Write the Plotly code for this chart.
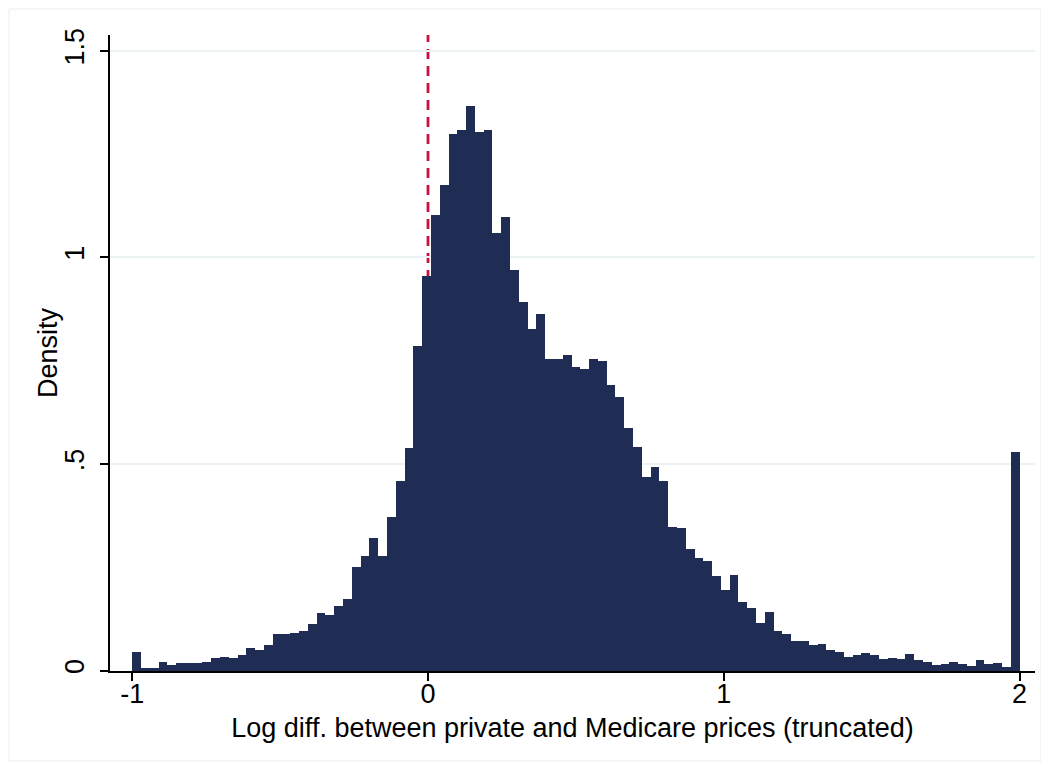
import plotly.graph_objects as go

# ---- data ----
bin_start = -1.0
bin_end = 2.0
n_bins = 101
density = [
    0.044, 0.007, 0.0055, 0.022, 0.0136, 0.0177, 0.0177, 0.0177, 0.020, 0.0298,
    0.034, 0.0306, 0.0387, 0.0557, 0.0508, 0.0613, 0.0879, 0.0879, 0.092, 0.096,
    0.113, 0.140, 0.135, 0.157, 0.174, 0.251, 0.278, 0.320, 0.278, 0.372,
    0.458, 0.538, 0.785, 0.956, 1.102, 1.174, 1.298, 1.308, 1.366, 1.303,
    1.309, 1.060, 1.097, 0.969, 0.891, 0.826, 0.862, 0.754, 0.753, 0.764,
    0.734, 0.731, 0.753, 0.748, 0.692, 0.662, 0.587, 0.541, 0.468, 0.493,
    0.458, 0.347, 0.345, 0.295, 0.272, 0.265, 0.228, 0.194, 0.232, 0.166,
    0.152, 0.116, 0.141, 0.096, 0.0896, 0.0726, 0.0717, 0.0613, 0.0654, 0.0508,
    0.0443, 0.0322, 0.0387, 0.0436, 0.037, 0.0274, 0.0298, 0.0274, 0.0395, 0.0266,
    0.0218, 0.0145, 0.016, 0.020, 0.016, 0.012, 0.0257, 0.017, 0.0194, 0.0097,
    0.529,
]
x_ticks = [-1, 0, 1, 2]
x_tick_labels = ["-1", "0", "1", "2"]
y_ticks = [0, 0.5, 1, 1.5]
y_tick_labels = ["0", ".5", "1", "1.5"]
ref_line_x = 0
x_title = "Log diff. between private and Medicare prices (truncated)"
y_title = "Density"

# ---- build ----
bw = (bin_end - bin_start) / n_bins
centers = [bin_start + (i + 0.5) * bw for i in range(n_bins)]

# page has an 8px body margin, so the figure is drawn 8px in from the window edge
W, H = 1041, 761
ml, mr, mt, mb = 102, 14, 27, 98
font = "Liberation Sans, Arial, Helvetica, sans-serif"

fig = go.Figure()
fig.add_trace(go.Bar(
    x=centers, y=density, width=bw,
    marker=dict(color="#1f2d54", line=dict(width=0)),
    hoverinfo="skip",
))

fig.add_shape(type="line", xref="x", yref="y domain",
              x0=ref_line_x, x1=ref_line_x, y0=0, y1=1,
              line=dict(color="#cc1040", width=2.8, dash="10px,7px"),
              layer="below")

pw = W - ml - mr
ph = H - mt - mb
def px_to_paper_x(p):
    return (p - ml) / pw
def px_to_paper_y(p):
    return (H - mb - p) / ph

# faint outer frame of the graph region
fig.add_shape(type="rect", xref="paper", yref="paper",
              x0=px_to_paper_x(1), x1=px_to_paper_x(W - 8),
              y0=px_to_paper_y(H - 8), y1=px_to_paper_y(1),
              line=dict(color="#e8ecee", width=1), fillcolor="rgba(0,0,0,0)",
              layer="below")

# y axis title as rotated text left of the tick labels
fig.add_annotation(text=y_title, xref="paper", yref="paper",
                   x=px_to_paper_x(40), y=0.5, xanchor="center", yanchor="middle",
                   textangle=-90, showarrow=False,
                   font=dict(family=font, size=27, color="black"))

fig.update_layout(
    width=W, height=H,
    margin=dict(l=ml, r=mr, t=mt, b=mb, autoexpand=False),
    paper_bgcolor="white", plot_bgcolor="white",
    bargap=0, showlegend=False,
    font=dict(family=font, size=27, color="black"),
)
fig.update_xaxes(
    range=[-1.075, 2.052], automargin=False,
    tickmode="array", tickvals=x_ticks, ticktext=x_tick_labels,
    ticks="outside", ticklen=8, tickwidth=1.5, tickcolor="black",
    ticklabelstandoff=-10,
    showline=True, linecolor="black", linewidth=1.5,
    showgrid=False, zeroline=False,
    tickfont=dict(size=27),
    title=dict(text=x_title, font=dict(size=27), standoff=10),
)
fig.update_yaxes(
    range=[-0.001, 1.538], automargin=False,
    tickmode="array", tickvals=y_ticks, ticktext=y_tick_labels,
    tickangle=-90,
    ticks="outside", ticklen=8, tickwidth=1.5, tickcolor="black",
    ticklabelstandoff=5,
    showline=True, linecolor="black", linewidth=1.5,
    showgrid=True, gridcolor="#eaf2f3", gridwidth=1.5,
    zeroline=False,
    tickfont=dict(size=27),
)

fig.write_html("out.html")
